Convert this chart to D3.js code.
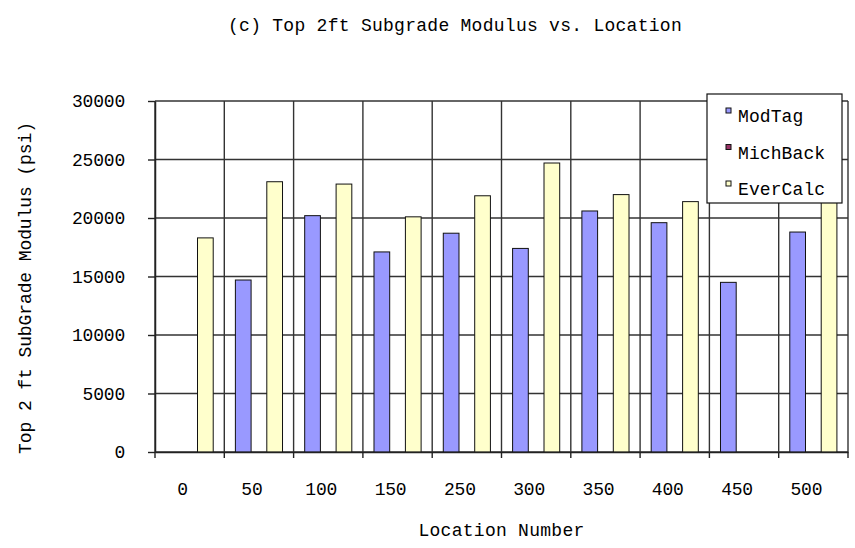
<!DOCTYPE html>
<html>
<head>
    <meta charset="UTF-8">
    <title>Top 2ft Subgrade Modulus vs. Location</title>
    <script src="https://cdn.jsdelivr.net/npm/d3@7"></script>
    <style>
        body { margin: 0; background: #fff; }
        text { font-family: "Liberation Mono", "DejaVu Sans Mono", monospace; fill: #000; }
        .grid line { stroke: #333; stroke-width: 1.4px; }
        .bar { stroke: #111; stroke-width: 1px; }
    </style>
</head>
<body>
<svg width="855" height="548"></svg>
<script>

    // values
    var locations = ["0", "50", "100", "150", "250", "300", "350", "400", "450", "500"];
    var seriesNames = ["ModTag", "MichBack", "EverCalc"];
    var modTag   = [0, 14700, 20200, 17100, 18700, 17400, 20600, 19600, 14500, 18800];
    var michBack = [0, 0, 0, 0, 0, 0, 0, 0, 0, 0];
    var everCalc = [18300, 23100, 22900, 20100, 21900, 24700, 22000, 21400, 0, 22500];
    var yTicks = [0, 5000, 10000, 15000, 20000, 25000, 30000];
    var colors = ["#9999ff", "#993366", "#ffffcc"];

    var svg = d3.select("svg");
    var plotLeft = 155, plotRight = 848, plotTop = 101, plotBottom = 452;

    var x = d3.scaleBand()
        .domain(locations)
        .range([plotLeft, plotRight])
        .paddingInner(0.32)
        .paddingOuter(0.16);

    var xs = d3.scaleBand()
        .domain(seriesNames)
        .range([0, x.bandwidth()]);

    var y = d3.scaleLinear()
        .domain([0, 30000])
        .range([plotBottom, plotTop]);

    var color = d3.scaleOrdinal().domain(seriesNames).range(colors);

    var step = x.step();
    var bounds = locations.map(function(d) { return x(d) - x.paddingOuter() * step; });
    bounds.push(plotRight);

    // grid
    var grid = svg.append("g").attr("class", "grid");
    grid.selectAll("line.h")
        .data(yTicks)
        .enter().append("line")
        .attr("class", "h")
        .attr("x1", plotLeft).attr("x2", plotRight)
        .attr("y1", function(d) { return y(d); })
        .attr("y2", function(d) { return y(d); });
    grid.selectAll("line.v")
        .data(bounds)
        .enter().append("line")
        .attr("class", "v")
        .attr("x1", function(d) { return d; })
        .attr("x2", function(d) { return d; })
        .attr("y1", plotTop).attr("y2", plotBottom);

    // bars
    var rows = locations.map(function(loc, i) {
        return { loc: loc, values: [modTag[i], michBack[i], everCalc[i]] };
    });

    svg.append("g")
        .selectAll("g")
        .data(rows)
        .enter().append("g")
        .attr("transform", function(d) { return "translate(" + x(d.loc) + ",0)"; })
        .selectAll("rect")
        .data(function(d) {
            return d.values.map(function(v, j) { return { key: seriesNames[j], value: v }; })
                .filter(function(e) { return e.value > 0; });
        })
        .enter().append("rect")
        .attr("class", "bar")
        .attr("x", function(d) { return xs(d.key); })
        .attr("width", xs.bandwidth())
        .attr("y", function(d) { return y(d.value); })
        .attr("height", function(d) { return plotBottom - y(d.value); })
        .attr("fill", function(d) { return color(d.key); });

    // axes
    var yAxis = svg.append("g")
        .attr("transform", "translate(" + plotLeft + ",0)")
        .call(d3.axisLeft(y).tickValues(yTicks).tickFormat(d3.format("d"))
            .tickSize(7).tickPadding(23).tickSizeOuter(0));
    yAxis.select(".domain").attr("stroke", "#222").attr("stroke-width", 1.5);
    yAxis.selectAll(".tick line").attr("stroke", "#222").attr("stroke-width", 1.4);
    yAxis.selectAll("text")
        .style("font-family", "Liberation Mono")
        .attr("font-size", 18).attr("letter-spacing", -0.2).attr("fill", "#000");

    var xAxis = svg.append("g")
        .attr("transform", "translate(0," + plotBottom + ")")
        .call(d3.axisBottom(x).tickSize(0).tickPadding(30));
    xAxis.select(".domain").attr("stroke", "#222").attr("stroke-width", 1.5);
    xAxis.selectAll("text")
        .style("font-family", "Liberation Mono")
        .attr("font-size", 18).attr("letter-spacing", -0.2).attr("dx", -7).attr("fill", "#000");

    xAxis.selectAll("line.bt")
        .data(bounds)
        .enter().append("line")
        .attr("class", "bt")
        .attr("x1", function(d) { return d; })
        .attr("x2", function(d) { return d; })
        .attr("y1", 0).attr("y2", 6)
        .attr("stroke", "#222").attr("stroke-width", 1.4);

    // titles
    svg.append("text")
        .attr("x", 455).attr("y", 31)
        .attr("text-anchor", "middle")
        .attr("font-size", 18).attr("letter-spacing", 0.27)
        .text("(c) Top 2ft Subgrade Modulus vs. Location");

    svg.append("text")
        .attr("x", (plotLeft + plotRight) / 2).attr("y", 536)
        .attr("text-anchor", "middle")
        .attr("font-size", 18).attr("letter-spacing", 0.27)
        .text("Location Number");

    svg.append("text")
        .attr("transform", "translate(31,288) rotate(-90)")
        .attr("text-anchor", "middle")
        .attr("font-size", 18).attr("letter-spacing", -0.1)
        .text("Top 2 ft SubGrade Modulus (psi)");

    // legend
    var legend = svg.append("g").attr("transform", "translate(707,94)");
    legend.append("rect")
        .attr("width", 135).attr("height", 109)
        .attr("fill", "#fff").attr("stroke", "#111").attr("stroke-width", 1.2);

    var item = legend.selectAll("g.item")
        .data(seriesNames)
        .enter().append("g")
        .attr("class", "item")
        .attr("transform", function(d, i) { return "translate(0," + (28 + i * 36.5) + ")"; });
    item.append("rect")
        .attr("x", 19).attr("y", -14)
        .attr("width", 5).attr("height", 5)
        .attr("fill", function(d) { return color(d); })
        .attr("stroke", "#111").attr("stroke-width", 1);
    item.append("text")
        .attr("x", 31).attr("y", 0)
        .attr("font-size", 18).attr("letter-spacing", 0.1)
        .text(function(d) { return d; });

</script>
</body>
</html>
